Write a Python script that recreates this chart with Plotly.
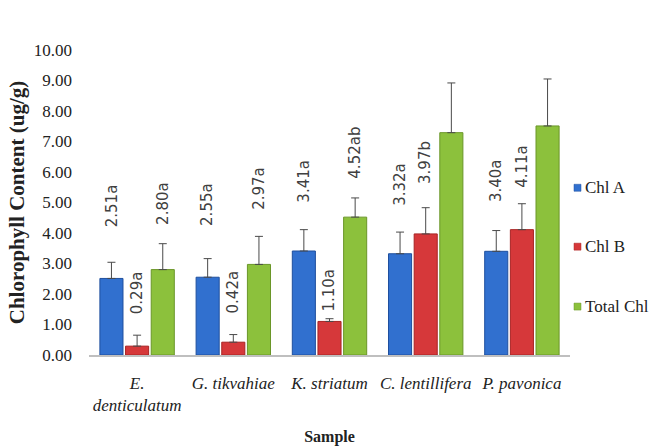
import plotly.graph_objects as go

samples = ["E.", "G. tikvahiae", "K. striatum", "C. lentillifera", "P. pavonica"]
sample_ticks = ["<i>E.</i><br><i>denticulatum</i>", "<i>G. tikvahiae</i>", "<i>K. striatum</i>",
                "<i>C. lentillifera</i>", "<i>P. pavonica</i>"]
series_names = ["Chl A", "Chl B", "Total Chl"]

chl_a = [2.51, 2.55, 3.41, 3.32, 3.40]
chl_b = [0.29, 0.42, 1.10, 3.97, 4.11]
total_chl = [2.80, 2.97, 4.52, 7.29, 7.51]

err_a = [0.53, 0.61, 0.70, 0.71, 0.68]
err_b = [0.36, 0.25, 0.09, 0.86, 0.85]
err_total = [0.85, 0.92, 0.63, 1.63, 1.54]

labels_a = ["2.51a", "2.55a", "3.41a", "3.32a", "3.40a"]
labels_b = ["0.29a", "0.42a", "1.10a", "3.97b", "4.11a"]
labels_total = ["2.80a", "2.97a", "4.52ab", "7.29b", "7.51b"]

# vertical centre of each (manually placed) data label, in axis units
label_pos_a = [4.89, 4.94, 5.71, 5.58, 5.71]
label_pos_b = [2.03, 2.06, 2.13, 6.32, 6.20]
label_pos_total = [4.98, 5.45, 6.64, 10.39, 10.25]

y_ticks = [0, 1, 2, 3, 4, 5, 6, 7, 8, 9, 10]

colors = ["#3170cf", "#d6383a", "#8cc13c"]
edge_colors = ["#1f4f9e", "#a82424", "#6a9628"]

values = [chl_a, chl_b, total_chl]
errors = [err_a, err_b, err_total]
labels = [labels_a, labels_b, labels_total]
label_pos = [label_pos_a, label_pos_b, label_pos_total]

W, H = 652, 446
ML, MR, MT, MB = 89, 82, 50, 90.5
PW, PH = W - ML - MR, H - MT - MB

fig = go.Figure()
for i in range(3):
    fig.add_trace(go.Bar(
        name=series_names[i], x=samples, y=values[i], showlegend=False,
        marker=dict(color=colors[i], line=dict(color=edge_colors[i], width=1)),
        error_y=dict(type="data", array=errors[i], arrayminus=[0] * 5, symmetric=False,
                     color="#4a4a4a", thickness=1, width=4),
    ))

slot_px = 25.7
annotations = []
for i in range(3):
    for j, s in enumerate(samples):
        annotations.append(dict(
            x=s, y=label_pos[i][j], xref="x", yref="y", text=labels[i][j],
            showarrow=False, textangle=-90, xshift=(i - 1) * slot_px,
            font=dict(family="DejaVu Sans", size=15, color="#404040"),
        ))

# custom legend (small squares + serif text), positioned in pixels
shapes = []
legend_rows_px = [188, 247, 307]
for i, name in enumerate(series_names):
    yc = (MT + PH - legend_rows_px[i]) / PH
    x0 = (574 - ML) / PW
    x1 = (581 - ML) / PW
    shapes.append(dict(type="rect", xref="paper", yref="paper",
                       x0=x0, x1=x1, y0=yc - 3.5 / PH, y1=yc + 3.5 / PH,
                       fillcolor=colors[i], line=dict(color=edge_colors[i], width=0.5)))
    annotations.append(dict(x=(583 - ML) / PW, y=yc, xref="paper", yref="paper",
                            text=name, showarrow=False, xanchor="left", yanchor="middle",
                            font=dict(family="Liberation Serif", size=17, color="#222222")))

fig.update_layout(
    width=W, height=H,
    margin=dict(l=ML, r=MR, t=MT, b=MB, autoexpand=False),
    paper_bgcolor="white", plot_bgcolor="white",
    barmode="group", bargap=0.2, bargroupgap=0.1,
    font=dict(family="Liberation Serif", color="#222222"),
    annotations=annotations, shapes=shapes,
    showlegend=False,
)
fig.update_xaxes(
    tickmode="array", tickvals=samples, ticktext=sample_ticks,
    showline=True, linecolor="#bfbfbf", linewidth=1.5, ticks="",
    ticklabelstandoff=12,
    tickfont=dict(family="Liberation Serif", size=17, color="#222222"),
    title=dict(text="<b>Sample</b>", font=dict(family="Liberation Serif", size=16, color="#222222"), standoff=22),
    showgrid=False,
)
fig.update_yaxes(
    range=[0, 10], tickmode="array", tickvals=y_ticks,
    ticktext=[f"{v:.2f}" for v in y_ticks],
    showline=False, showgrid=False, zeroline=False, ticks="",
    ticklabelstandoff=16,
    tickfont=dict(family="Liberation Serif", size=17, color="#222222"),
    title=dict(text="<b>Chlorophyll Content (ug/g)</b>", font=dict(family="Liberation Serif", size=21, color="#222222"), standoff=3),
)

fig.write_html("out.html", config={"displayModeBar": False},
               post_script="document.body.style.margin='0px';")
